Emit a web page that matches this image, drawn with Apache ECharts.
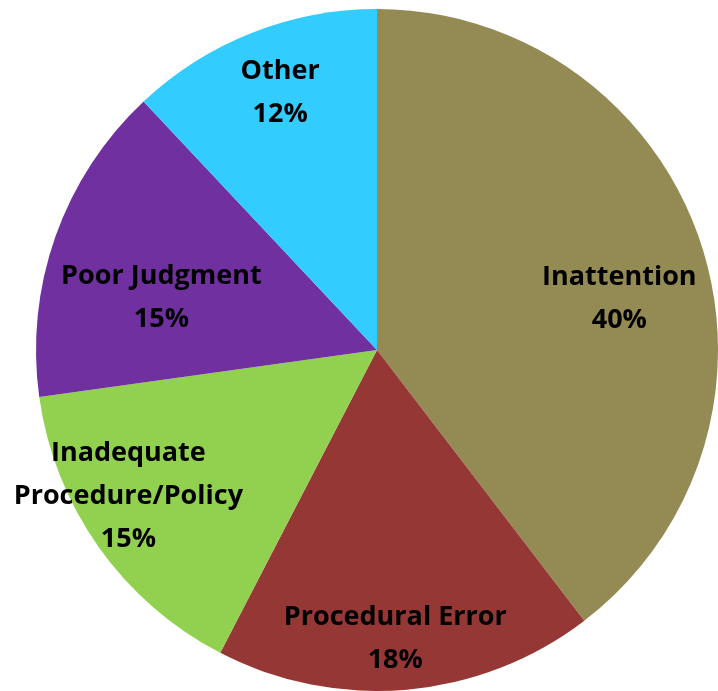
<!DOCTYPE html>
<html>
<head>
<meta charset="utf-8">
<script src="https://cdn.jsdelivr.net/npm/echarts@6/dist/echarts.min.js"></script>
<style>
  html, body { margin: 0; padding: 0; background: #fff; }
  #main { width: 718px; height: 691px; }
</style>
</head>
<body>
<div id="main"></div>
<script>
var categories = ['Inattention', 'Procedural Error', 'Inadequate\nProcedure/Policy', 'Poor Judgment', 'Other']
// shares; the labels show them rounded
var values = [39.6, 18.0, 15.2, 15.2, 12.0]
var colors = ['#948A54', '#953735', '#92D050', '#7030A0', '#33CCFF']
// label nudges so they sit where the original put them
var offsets = [[78, 4], [3, 116], [-107, 46], [-52, 6], [-33, -96]]

var myChart = echarts.init(document.getElementById('main'))

var data = categories.map(function (name, i) {
    return {
        name: name,
        value: values[i],
        itemStyle: { color: colors[i] },
        label: { offset: offsets[i] }
    }
})

myChart.setOption({
    animation: false,
    series: [{
        type: 'pie',
        center: [377, 350],
        radius: 341,
        startAngle: 90,
        clockwise: true,
        label: {
            position: 'inside',
            formatter: function (p) {
                return p.name + '\n' + Math.round(p.percent) + '%'
            },
            color: '#000',
            fontFamily: 'Open Sans',
            fontWeight: 'bold',
            fontSize: 27,
            lineHeight: 43
        },
        labelLine: { show: false },
        itemStyle: { borderWidth: 0 },
        emphasis: { disabled: true },
        data: data
    }]
})
</script>
</body>
</html>
